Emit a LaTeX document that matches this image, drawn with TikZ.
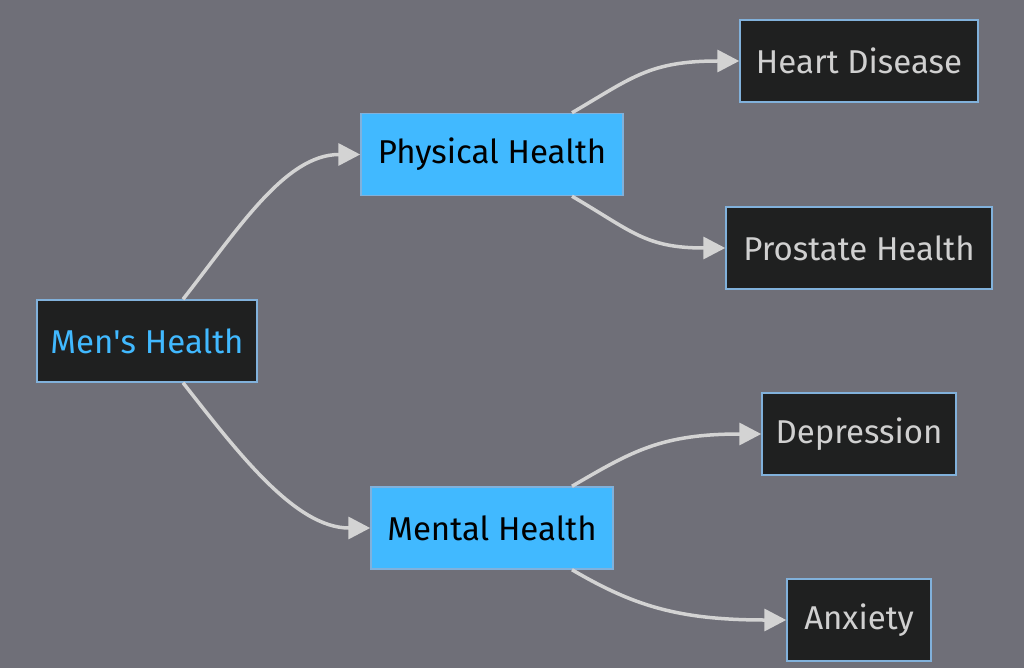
\documentclass[tikz,border=0pt]{standalone}
\usepackage{fontspec}
\setmainfont{Fira Sans}
\usetikzlibrary{arrows.meta}
\definecolor{bg}{HTML}{6F6F78}
\definecolor{dark}{HTML}{1F2020}
\definecolor{bord}{HTML}{81B1DB}
\definecolor{sky}{HTML}{41B9FF}
\definecolor{light}{HTML}{D3D3D3}
\definecolor{txt}{HTML}{D0D0D0}
\tikzset{
  box/.style={draw=bord, line width=1.5pt, fill=dark, text=txt, inner sep=0pt,
    font=\fontsize{33}{40}\selectfont, minimum height=82pt},
  bluebox/.style={box, fill=sky, text=black},
  conn/.style={draw=light, line width=3.5pt, -{Triangle[length=22pt,width=22pt]}},
}
\begin{document}
\begin{tikzpicture}[x=1pt,y=-1pt]
\fill[bg] (0,0) rectangle (1024,668);
\useasboundingbox (0,0) rectangle (1024,668);
\node[box, text=sky, minimum width=220pt] (men) at (147,341) {Men\textquotesingle s Health};
\node[bluebox, minimum width=262pt] (phys) at (492,154.5) {Physical Health};
\node[bluebox, minimum width=242pt] (ment) at (492,528) {Mental Health};
\node[box, minimum width=238pt] (heart) at (859,61) {Heart Disease};
\node[box, minimum width=266pt] (pros) at (859,248) {Prostate Health};
\node[box, minimum width=194pt] (dep) at (859,434) {Depression};
\node[box, minimum width=144pt] (anx) at (859,620) {Anxiety};
\draw[conn] ([xshift=36pt]men.north) .. controls +(55,-70) and +(-75,0) .. (phys.west);
\draw[conn] ([xshift=36pt]men.south) .. controls +(55,70) and +(-75,0) .. (ment.west);
\draw[conn] ([xshift=80pt]phys.north) .. controls +(60,-35) and +(-90,0) .. (heart.west);
\draw[conn] ([xshift=80pt]phys.south) .. controls +(60,35) and +(-80,0) .. (pros.west);
\draw[conn] ([xshift=80pt]ment.north) .. controls +(60,-35) and +(-100,0) .. (dep.west);
\draw[conn] ([xshift=80pt]ment.south) .. controls +(60,35) and +(-110,0) .. (anx.west);
\end{tikzpicture}
\end{document}
